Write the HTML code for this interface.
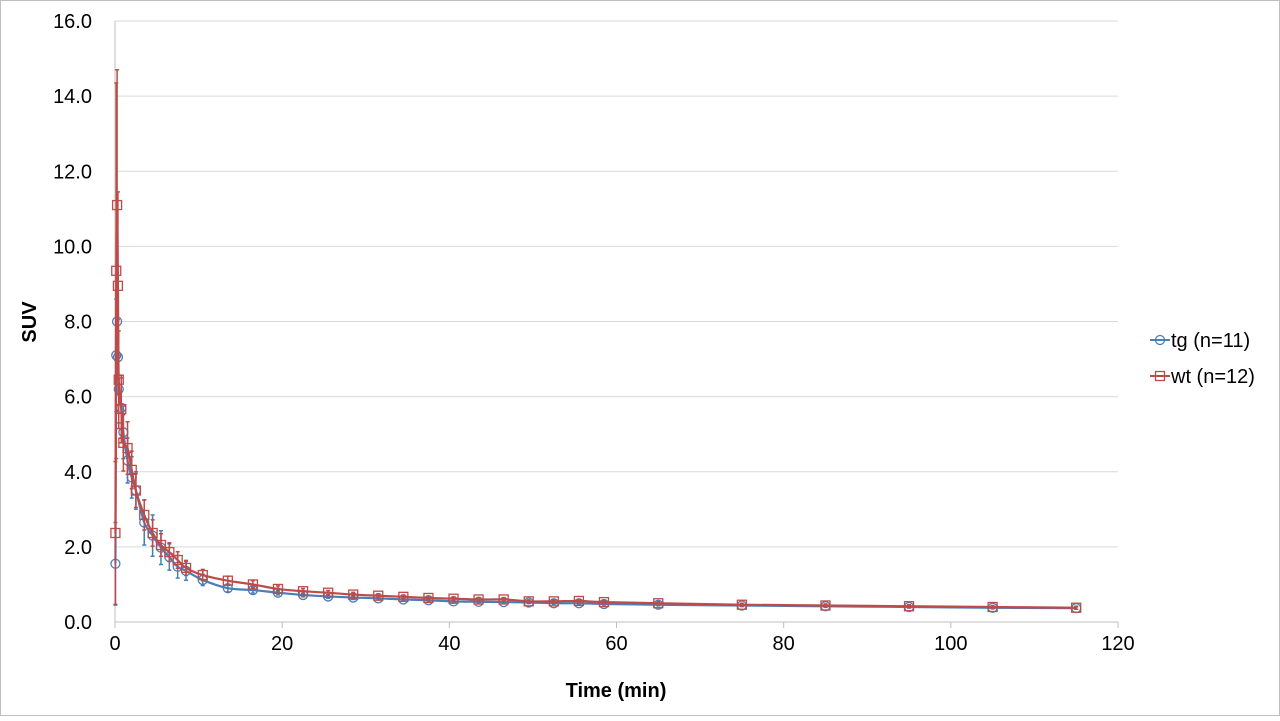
<!DOCTYPE html>
<html><head><meta charset="utf-8"><style>
body{margin:0;background:#fff;font-family:"Liberation Sans",sans-serif}
svg text{font-family:"Liberation Sans",sans-serif}
</style></head><body>
<svg id="c" width="1280" height="716" xmlns="http://www.w3.org/2000/svg">
<rect x="0.5" y="0.5" width="1279" height="715" fill="#fff" stroke="#bfbfbf"/>
<g id="grid"></g>
<g id="axes"></g>
<g id="series"></g>
<text x="616" y="697" font-size="20" font-weight="bold" text-anchor="middle">Time (min)</text>
<text transform="translate(36,322) rotate(-90)" font-size="20" font-weight="bold" text-anchor="middle">SUV</text>
<g>
<g>
<line x1="1150" y1="340" x2="1170" y2="340" stroke="#4a7ebb" stroke-width="2"/>
<circle cx="1160" cy="340" r="4.5" fill="none" stroke="#4a7ebb" stroke-width="1.3"/>
<text x="1171" y="347" font-size="20">tg (n=11)</text></g>
<g>
<line x1="1150" y1="376" x2="1170" y2="376" stroke="#be4b48" stroke-width="2"/>
<rect x="1155.5" y="371.5" width="9" height="9" fill="none" stroke="#be4b48" stroke-width="1.3"/>
<text x="1171" y="383" font-size="20">wt (n=12)</text></g>
</g>
</svg>
<script>
const times=[0.05,0.15,0.25,0.35,0.45,0.75,1.0,1.5,2.0,2.5,3.5,4.5,5.5,6.5,7.5,8.5,10.5,13.5,16.5,19.5,22.5,25.5,28.5,31.5,34.5,37.5,40.5,43.5,46.5,49.5,52.5,55.5,58.5,65,75,85,95,105,115];
const tgVals=[1.55,7.1,8.0,7.05,6.2,5.7,5.05,4.3,3.85,3.5,2.65,2.3,1.98,1.73,1.47,1.36,1.12,0.9,0.85,0.78,0.72,0.68,0.65,0.63,0.6,0.58,0.55,0.54,0.53,0.52,0.5,0.5,0.48,0.46,0.44,0.42,0.4,0.38,0.37];
const tgErr=[1.1,1.5,1.3,1.0,0.9,0.8,0.7,0.6,0.55,0.5,0.6,0.55,0.45,0.35,0.3,0.25,0.15,0.1,0.08,0.06,0.05,0.05,0.05,0.04,0.04,0.04,0.04,0.03,0.03,0.03,0.03,0.03,0.03,0.03,0.03,0.03,0.03,0.03,0.03];
const wtVals=[2.37,9.35,11.1,8.95,6.45,5.67,4.77,4.63,4.05,3.5,2.85,2.37,2.05,1.86,1.65,1.44,1.25,1.1,1.0,0.88,0.82,0.78,0.73,0.7,0.67,0.64,0.62,0.6,0.6,0.55,0.55,0.56,0.53,0.5,0.46,0.44,0.42,0.4,0.38];
const wtErr=[1.9,5.0,3.6,2.5,1.3,0.9,0.75,0.7,0.5,0.45,0.4,0.35,0.3,0.25,0.22,0.2,0.15,0.12,0.1,0.08,0.07,0.06,0.06,0.05,0.05,0.05,0.05,0.05,0.05,0.04,0.04,0.04,0.04,0.04,0.04,0.04,0.04,0.04,0.04];
const xTicks=[0,20,40,60,80,100,120];
const yTicks=[0,2,4,6,8,10,12,14,16];
const NS='http://www.w3.org/2000/svg';
const X=v=>115+v*(1118-115)/120;
const Y=v=>622-v*(622-21)/16;
function mk(tag,attrs,parent){const e=document.createElementNS(NS,tag);for(const k in attrs)e.setAttribute(k,attrs[k]);parent.appendChild(e);return e;}
const grid=document.getElementById('grid'),axes=document.getElementById('axes'),ser=document.getElementById('series');
yTicks.forEach(t=>{
 if(t>0){const l=mk('line',{x1:115,x2:1118,y1:Y(t),y2:Y(t),stroke:'#d9d9d9','stroke-width':1},grid);
 
 }
 const tx=mk('text',{x:92,y:Y(t)+7,'font-size':20,'text-anchor':'end'},axes);tx.textContent=t.toFixed(1);
 
 
});
mk('line',{x1:115,x2:1118,y1:622,y2:622,stroke:'#bfbfbf'},axes);
mk('line',{x1:115,x2:115,y1:21,y2:622,stroke:'#bfbfbf'},axes);
xTicks.forEach(t=>{
 mk('line',{x1:X(t),x2:X(t),y1:622,y2:628,stroke:'#bfbfbf'},axes);
 const tx=mk('text',{x:X(t),y:650,'font-size':20,'text-anchor':'middle'},axes);tx.textContent=t;
 
 
});
function smooth(pts){let d='M'+pts[0][0]+','+pts[0][1];
 for(let i=0;i<pts.length-1;i++){const p0=pts[i-1]||pts[i],p1=pts[i],p2=pts[i+1],p3=pts[i+2]||p2;
 const c1=[p1[0]+(p2[0]-p0[0])/6,p1[1]+(p2[1]-p0[1])/6],c2=[p2[0]-(p3[0]-p1[0])/6,p2[1]-(p3[1]-p1[1])/6];
 d+=' C'+c1+' '+c2+' '+p2;}return d;}
function series(vals,errs,color,shape,name){
 const g=mk('g',{},ser);
 
 
 vals.forEach((v,i)=>{const x=X(times[i]);
  mk('line',{x1:x,x2:x,y1:Y(v-errs[i]),y2:Y(v+errs[i]),stroke:color,'stroke-width':1.5},g);
  mk('line',{x1:x-2,x2:x+2,y1:Y(v+errs[i]),y2:Y(v+errs[i]),stroke:color,'stroke-width':1.5},g);
  mk('line',{x1:x-2,x2:x+2,y1:Y(v-errs[i]),y2:Y(v-errs[i]),stroke:color,'stroke-width':1.5},g);});
 const p=mk('path',{d:smooth(vals.map((v,i)=>[X(times[i]),Y(v)])),fill:'none',stroke:color,'stroke-width':2.2},g);
 
 
 vals.forEach((v,i)=>{const x=X(times[i]),y=Y(v);let m;
  if(shape==='c')m=mk('circle',{cx:x,cy:y,r:4.5,fill:'none',stroke:color,'stroke-width':1.3},g);
  else m=mk('rect',{x:x-4.5,y:y-4.5,width:9,height:9,fill:'none',stroke:color,'stroke-width':1.3},g);
  
  });
}
series(tgVals,tgErr,'#4a7ebb','c','tg');
series(wtVals,wtErr,'#be4b48','s','wt');
</script>
</body></html>
